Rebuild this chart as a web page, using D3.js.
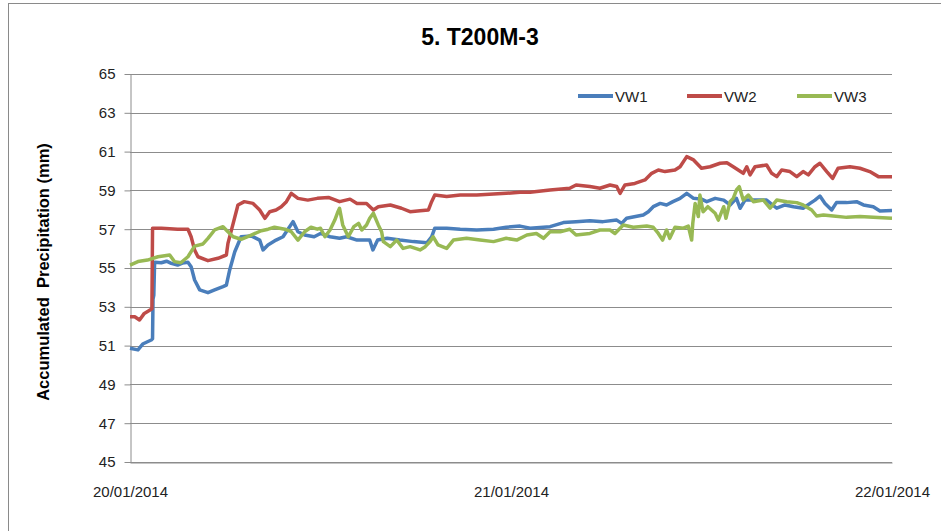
<!DOCTYPE html>
<html>
<head>
<meta charset="utf-8">
<script src="https://cdn.jsdelivr.net/npm/d3@7"></script>
<style>
  body { margin: 0; background: #fff; }
  svg { display: block; font-family: "Liberation Sans", Arial, sans-serif; }
</style>
</head>
<body>
<svg id="chart" width="941" height="531"></svg>
<script>
// series: [hours after 20/01/2014 00:00, mm]
const vw1 = [
  [0, 50.86], [0.5, 50.78], [0.8, 51.08], [1.1, 51.2], [1.34, 51.29], [1.42, 51.35],
  [1.45, 53.4], [1.5, 53.6], [1.55, 55.3], [1.97, 55.27], [2.3, 55.35], [2.6, 55.24],
  [3.0, 55.15], [3.3, 55.25], [3.65, 55.3], [3.85, 55.07], [4.07, 54.38], [4.39, 53.87],
  [4.91, 53.73], [5.33, 53.87], [5.86, 54.04], [6.07, 54.12], [6.28, 54.9], [6.6, 55.84],
  [7.0, 56.61], [7.64, 56.65], [8.17, 56.44], [8.38, 55.93], [8.69, 56.19], [9.2, 56.44],
  [9.64, 56.61], [9.95, 57.0], [10.27, 57.39], [10.58, 56.87], [11.0, 56.7], [11.6, 56.61],
  [12.0, 56.78], [12.6, 56.61], [13.2, 56.53], [13.65, 56.61], [14.3, 56.44], [15.1, 56.44],
  [15.3, 55.93], [15.6, 56.44], [16.2, 56.53], [17.0, 56.44], [17.85, 56.36], [18.7, 56.3],
  [19.0, 56.61], [19.2, 57.05], [19.95, 57.05], [20.8, 57.0], [21.84, 56.96], [22.9, 57.0],
  [23.7, 57.1], [24.57, 57.16], [25.2, 57.05], [26.46, 57.13], [27.3, 57.34], [28.1, 57.39],
  [28.97, 57.44], [29.8, 57.39], [30.66, 57.47], [30.97, 57.3], [31.28, 57.56], [32.33, 57.73],
  [32.65, 57.9], [32.96, 58.16], [33.4, 58.33], [33.8, 58.25], [34.2, 58.42], [34.65, 58.59],
  [35.07, 58.85], [35.5, 58.59], [36.0, 58.55], [36.33, 58.42], [36.86, 58.59], [37.4, 58.5],
  [37.8, 58.25], [38.2, 58.59], [38.43, 58.08], [38.74, 58.5], [39.27, 58.5], [40.1, 58.5],
  [40.74, 58.08], [41.26, 58.25], [41.8, 58.16], [42.4, 58.08], [42.84, 58.33], [43.15, 58.5],
  [43.46, 58.71], [43.78, 58.33], [44.2, 57.99], [44.5, 58.37], [45.14, 58.37], [45.77, 58.42],
  [46.2, 58.25], [46.82, 58.16], [47.24, 57.94], [48, 57.96]
];
const vw2 = [
  [0, 52.49], [0.3, 52.49], [0.6, 52.32], [0.9, 52.66], [1.34, 52.87], [1.38, 52.9],
  [1.42, 57.05], [1.97, 57.05], [2.5, 57.02], [3.0, 57.0], [3.65, 57.0], [3.85, 56.61],
  [4.07, 55.93], [4.28, 55.58], [4.91, 55.38], [5.54, 55.5], [6.07, 55.67], [6.17, 56.27],
  [6.5, 57.3], [6.8, 58.25], [7.2, 58.42], [7.75, 58.33], [8.17, 57.99], [8.5, 57.56],
  [8.8, 57.9], [9.2, 57.99], [9.53, 58.16], [9.85, 58.42], [10.16, 58.85], [10.58, 58.59],
  [11.2, 58.5], [11.8, 58.59], [12.5, 58.64], [13.2, 58.42], [13.86, 58.55], [14.3, 58.33],
  [14.9, 58.33], [15.33, 57.99], [15.64, 58.16], [16.4, 58.25], [17.1, 58.08], [17.64, 57.9],
  [18.27, 57.95], [18.8, 57.99], [19.0, 58.42], [19.2, 58.76], [19.95, 58.68], [20.8, 58.76],
  [21.84, 58.76], [22.9, 58.81], [23.7, 58.85], [24.57, 58.9], [25.2, 58.9], [26.46, 59.02],
  [27.7, 59.11], [28.1, 59.28], [28.97, 59.2], [29.6, 59.11], [30.24, 59.28], [30.66, 59.2],
  [30.87, 58.85], [31.18, 59.28], [31.8, 59.36], [32.44, 59.54], [32.86, 59.88], [33.28, 60.05],
  [33.7, 59.97], [34.33, 60.05], [34.65, 60.22], [35.07, 60.74], [35.5, 60.57], [36.0, 60.14],
  [36.54, 60.22], [37.17, 60.4], [37.6, 60.43], [38.0, 60.22], [38.63, 59.88], [38.85, 60.22],
  [39.06, 59.8], [39.37, 60.22], [40.1, 60.31], [40.42, 59.88], [40.74, 59.71], [41.05, 60.05],
  [41.57, 59.97], [42.0, 59.71], [42.4, 59.97], [42.73, 59.8], [43.15, 60.22], [43.46, 60.4],
  [43.89, 59.97], [44.26, 59.62], [44.6, 60.14], [45.35, 60.22], [45.98, 60.14], [46.6, 59.97],
  [47.14, 59.71], [48, 59.71]
];
const vw3 = [
  [0, 55.15], [0.5, 55.33], [1.1, 55.41], [1.76, 55.58], [2.5, 55.67], [2.8, 55.33],
  [3.2, 55.27], [3.65, 55.58], [4.07, 56.13], [4.6, 56.24], [4.91, 56.53], [5.33, 56.96],
  [5.86, 57.13], [6.17, 56.87], [6.5, 56.61], [7.0, 56.48], [7.64, 56.7], [8.27, 56.92],
  [8.7, 57.0], [9.1, 57.1], [9.75, 57.0], [10.16, 56.87], [10.58, 56.44], [11.0, 56.87],
  [11.4, 57.1], [11.8, 57.0], [12.0, 57.05], [12.28, 56.61], [12.6, 56.96], [12.9, 57.47],
  [13.1, 57.9], [13.2, 58.08], [13.4, 57.22], [13.75, 56.61], [14.1, 57.13], [14.4, 57.3],
  [14.6, 56.96], [14.9, 57.22], [15.1, 57.56], [15.33, 57.82], [15.64, 57.22], [15.85, 56.87],
  [15.96, 56.36], [16.4, 56.1], [16.8, 56.44], [17.2, 56.01], [17.64, 56.1], [18.27, 55.93],
  [18.6, 56.1], [18.9, 56.36], [19.1, 56.61], [19.4, 56.19], [19.95, 56.01], [20.37, 56.44],
  [21.2, 56.53], [22.05, 56.44], [22.9, 56.36], [23.7, 56.53], [24.36, 56.44], [25.0, 56.7],
  [25.6, 56.78], [26.05, 56.53], [26.46, 56.87], [27.1, 56.87], [27.7, 57.0], [28.1, 56.7],
  [28.97, 56.78], [29.6, 56.96], [30.24, 56.96], [30.55, 56.78], [31.07, 57.22], [31.7, 57.1],
  [32.55, 57.16], [32.96, 57.1], [33.28, 56.78], [33.55, 56.44], [33.8, 56.96], [34.0, 56.53],
  [34.33, 57.1], [34.86, 57.05], [35.17, 57.16], [35.38, 56.44], [35.45, 57.3], [35.6, 58.33],
  [35.8, 57.65], [35.9, 58.76], [36.1, 57.9], [36.4, 58.16], [36.86, 57.82], [37.06, 57.47],
  [37.4, 58.16], [37.54, 57.56], [37.8, 58.42], [38.0, 58.59], [38.2, 59.02], [38.38, 59.19],
  [38.63, 58.5], [38.95, 58.76], [39.27, 58.42], [39.9, 58.5], [40.32, 58.08], [40.74, 58.5],
  [41.37, 58.42], [42.0, 58.37], [42.4, 58.25], [42.94, 57.99], [43.25, 57.68], [43.68, 57.73],
  [44.3, 57.68], [45.14, 57.61], [45.98, 57.65], [46.82, 57.61], [48, 57.56]
];

const seriesNames = ["VW1", "VW2", "VW3"];
const seriesColors = ["#4a7ebb", "#be4b48", "#98b954"];
const yTicks = [45, 47, 49, 51, 53, 55, 57, 59, 61, 63, 65];
const startDate = new Date(2014, 0, 20);
const xTicks = [new Date(2014, 0, 20), new Date(2014, 0, 21), new Date(2014, 0, 22)];

const svg = d3.select("#chart");
const plotLeft = 130, plotRight = 892, plotTop = 74, plotBottom = 462;

const x = d3.scaleTime()
  .domain([xTicks[0], xTicks[2]])
  .range([plotLeft, plotRight]);
const y = d3.scaleLinear()
  .domain([45, 65])
  .range([plotBottom, plotTop]);

// outer frame of the chart area
svg.append("rect")
  .attr("x", 8.5).attr("y", 3.5)
  .attr("width", 1000).attr("height", 1000)
  .attr("fill", "none")
  .attr("stroke", "#8a8a8a");

// title
svg.append("text")
  .attr("x", 480).attr("y", 45)
  .attr("text-anchor", "middle")
  .style("font-size", "23px")
  .style("font-weight", "bold")
  .text("5. T200M-3");

// gridlines
svg.append("g")
  .selectAll("line")
  .data(yTicks)
  .join("line")
  .attr("x1", plotLeft).attr("x2", plotRight)
  .attr("y1", (d) => Math.round(y(d)) + 0.5)
  .attr("y2", (d) => Math.round(y(d)) + 0.5)
  .attr("stroke", "#8c8c8c");

// y axis
const yAxis = svg.append("g")
  .attr("transform", `translate(${plotLeft + 0.5},0)`)
  .call(d3.axisLeft(y).tickValues(yTicks).tickSize(6).tickPadding(9).tickSizeOuter(0));
yAxis.select(".domain").attr("stroke", "#8c8c8c");
yAxis.selectAll(".tick line").attr("stroke", "#8c8c8c");
yAxis.selectAll(".tick text")
  .style("font-size", "15px")
  .style("font-family", "Liberation Sans, Arial, sans-serif")
  .attr("fill", "#222");

// x axis
const xAxis = svg.append("g")
  .attr("transform", `translate(0,${plotBottom + 0.5})`)
  .call(d3.axisBottom(x).tickValues(xTicks).tickFormat(d3.timeFormat("%d/%m/%Y"))
    .tickSize(0).tickPadding(24));
xAxis.select(".domain").attr("stroke", "#8c8c8c");
xAxis.selectAll(".tick text")
  .style("font-size", "15px")
  .style("font-family", "Liberation Sans, Arial, sans-serif")
  .attr("fill", "#222");

// y axis title
svg.append("text")
  .attr("transform", "translate(49,272) rotate(-90)")
  .attr("text-anchor", "middle")
  .style("font-size", "16.5px")
  .style("font-weight", "bold")
  .style("white-space", "pre")
  .text("Accumulated  Precipitation (mm)");

// lines
const line = d3.line()
  .x((d) => x(new Date(startDate.getTime() + d[0] * 3600000)))
  .y((d) => y(d[1]));

[vw1, vw2, vw3].forEach((s, i) => {
  svg.append("path")
    .attr("d", line(s))
    .attr("fill", "none")
    .attr("stroke", seriesColors[i])
    .attr("stroke-width", 3.5)
    .attr("stroke-linejoin", "round");
});

// legend
const legendX = [578, 687, 797];
const legend = svg.append("g");
seriesNames.forEach((name, i) => {
  legend.append("line")
    .attr("x1", legendX[i]).attr("x2", legendX[i] + 35)
    .attr("y1", 96).attr("y2", 96)
    .attr("stroke", seriesColors[i])
    .attr("stroke-width", 4);
  legend.append("text")
    .attr("x", legendX[i] + 37).attr("y", 101.5)
    .style("font-size", "15px")
    .attr("fill", "#222")
    .text(name);
});
</script>
</body>
</html>
